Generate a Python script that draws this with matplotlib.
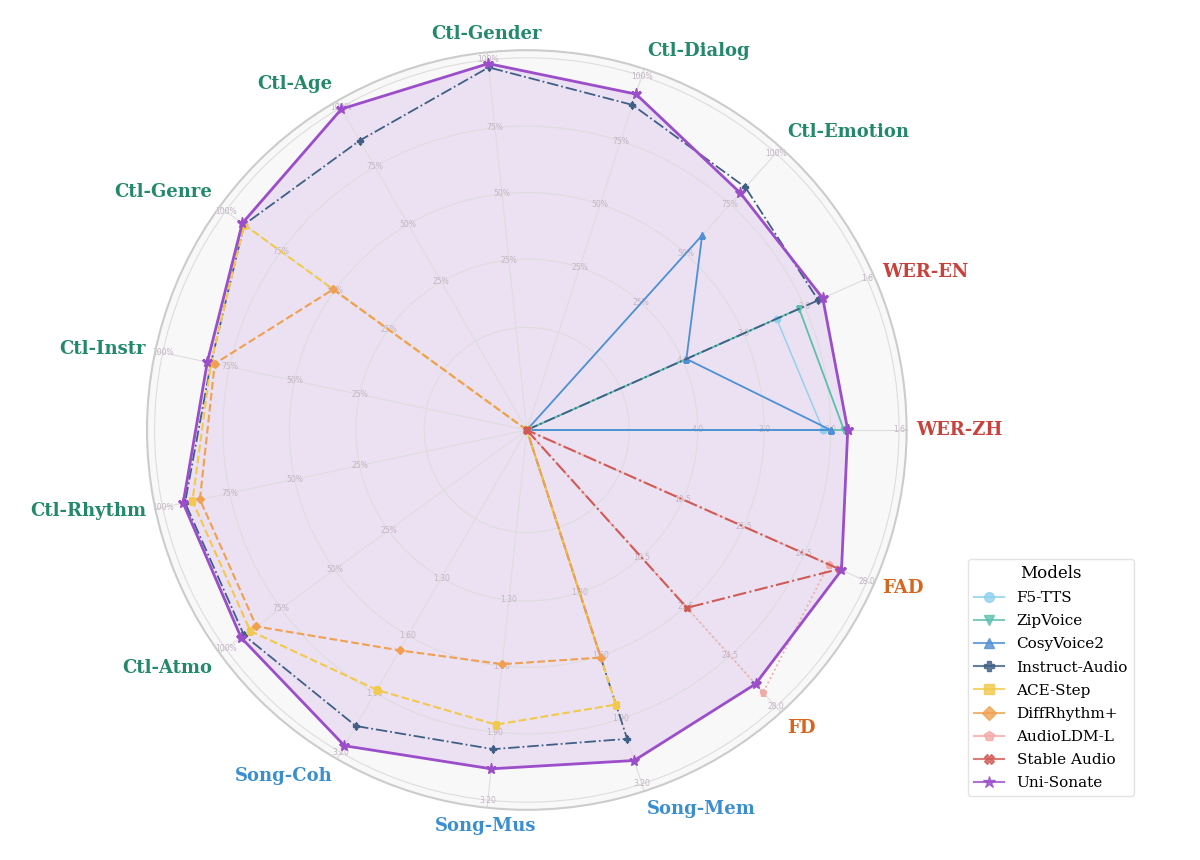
import matplotlib
matplotlib.use("Agg")
import matplotlib.pyplot as plt
import numpy as np
from matplotlib.lines import Line2D

# 轴顺序：从东向逆时针
axes_names = ["WER-ZH", "WER-EN", "Ctl-Emotion", "Ctl-Dialog", "Ctl-Gender", "Ctl-Age",
              "Ctl-Genre", "Ctl-Instr", "Ctl-Rhythm", "Ctl-Atmo", "Song-Coh", "Song-Mus",
              "Song-Mem", "FD", "FAD"]
axis_groups = ["wer", "wer", "ctl", "ctl", "ctl", "ctl", "ctl", "ctl", "ctl", "ctl",
               "song", "song", "song", "fad", "fad"]

# 归一化后的半径（0 = 未评测）
f5_tts        = [0.78, 0.72, 0, 0, 0, 0, 0, 0, 0, 0, 0, 0, 0, 0, 0]
zipvoice      = [0.835, 0.785, 0, 0, 0, 0, 0, 0, 0, 0, 0, 0, 0, 0, 0]
cosyvoice2    = [0.80, 0.46, 0.69, 0, 0, 0, 0, 0, 0, 0, 0, 0, 0, 0, 0]
instruct_audio = [0, 0.84, 0.86, 0.90, 0.96, 0.88, 0.92, 0.85, 0.92, 0.92, 0.90, 0.845, 0.855, 0, 0]
ace_step      = [0, 0, 0, 0, 0, 0, 0.92, 0.85, 0.90, 0.90, 0.79, 0.78, 0.76, 0, 0]
diffrhythm    = [0, 0, 0, 0, 0, 0, 0.63, 0.84, 0.88, 0.88, 0.67, 0.62, 0.63, 0, 0]
audioldm_l    = [0, 0, 0, 0, 0, 0, 0, 0, 0, 0, 0, 0, 0, 0.93, 0.87]
stable_audio  = [0, 0, 0, 0, 0, 0, 0, 0, 0, 0, 0, 0, 0, 0.63, 0.90]
uni_sonate    = [0.845, 0.853, 0.84, 0.93, 0.97, 0.976, 0.926, 0.86, 0.925, 0.93, 0.96, 0.897, 0.915, 0.90, 0.907]

models = ["F5-TTS", "ZipVoice", "CosyVoice2", "Instruct-Audio", "ACE-Step",
          "DiffRhythm+", "AudioLDM-L", "Stable Audio", "Uni-Sonate"]
series = [f5_tts, zipvoice, cosyvoice2, instruct_audio, ace_step,
          diffrhythm, audioldm_l, stable_audio, uni_sonate]
colors = ["#8fd0ec", "#5cc0ad", "#4f8fd6", "#3f5f86", "#f2c94c",
          "#f0a050", "#f2aaa5", "#d05a55", "#9b4dca"]
markers = ["o", "v", "^", "P", "s", "D", "p", "X", "*"]
styles = ["-", "-", "-", "-.", "--", "--", ":", "-.", "-"]
widths = [1.0, 1.3, 1.3, 1.3, 1.5, 1.5, 1.3, 1.5, 2.0]

# 每个轴上的刻度文字
ring_r = [0.45, 0.625, 0.80, 0.98]
tick_text = {
    "ctl": ["25%", "50%", "75%", "100%"],
    "wer": ["4.0", "3.0", "2.0", "1.6"],
    "song": ["1.30", "1.60", "1.90", "3.20"],
    "fad": ["10.5", "21.5", "24.5", "28.0"],
}
group_color = {"ctl": "#23896b", "wer": "#c9413a", "song": "#3b8fd1", "fad": "#d9651c"}

n = len(axes_names)
theta = np.arange(n) * 2 * np.pi / n
theta_c = np.append(theta, theta[0])

fig = plt.figure(figsize=(12, 8.6), dpi=100)
ax = fig.add_axes([0.1225, 0.058, 0.633, 0.884], projection="polar")
ax.set_facecolor("#f8f8f8")
ax.set_ylim(0, 1.0)
ax.set_xticks(theta)
ax.set_xticklabels([])
ax.set_yticks([0.27] + ring_r)
ax.set_yticklabels([])
ax.grid(color="#dddddd", lw=0.8)
ax.spines["polar"].set_color("#cccccc")
ax.spines["polar"].set_linewidth(1.5)

for vals, name, c, m, ls, lw in zip(series, models, colors, markers, styles, widths):
    v = np.append(vals, vals[0])
    ax.plot(theta_c, v, color=c, ls=ls, lw=lw, marker=m, markersize=8 if m == "*" else 4.5, zorder=3)
    if name == "Uni-Sonate":
        ax.fill(theta_c, v, color=c, alpha=0.13, zorder=1)

for t, g in zip(theta, axis_groups):
    for r, s in zip(ring_r, tick_text[g]):
        ax.text(t, r, s, fontsize=5.5, color="#c4b4c4", ha="center", va="center", zorder=2)

for t, name, g in zip(theta, axes_names, axis_groups):
    c, s = np.cos(t), np.sin(t)
    ha = "left" if c > 0.3 else ("right" if c < -0.3 else "center")
    va = "bottom" if s > 0.5 else ("top" if s < -0.5 else "center")
    ax.text(t, 1.025, name, fontsize=13, fontweight="bold", family="DejaVu Serif",
            color=group_color[g], ha=ha, va=va)

handles = [Line2D([0], [0], color=c, ls="-", lw=1.5, marker=m, markersize=9 if m == "*" else 7, alpha=0.8)
           for c, m in zip(colors, markers)]
leg = fig.legend(handles, models, title="Models", loc="lower left", bbox_to_anchor=(0.80, 0.065),
                 prop={"family": "DejaVu Serif", "size": 11}, title_fontproperties={"family": "DejaVu Serif", "size": 12},
                 frameon=True, labelspacing=0.6)
leg.get_frame().set_edgecolor("#dddddd")

fig.savefig("out.png", dpi=100)
